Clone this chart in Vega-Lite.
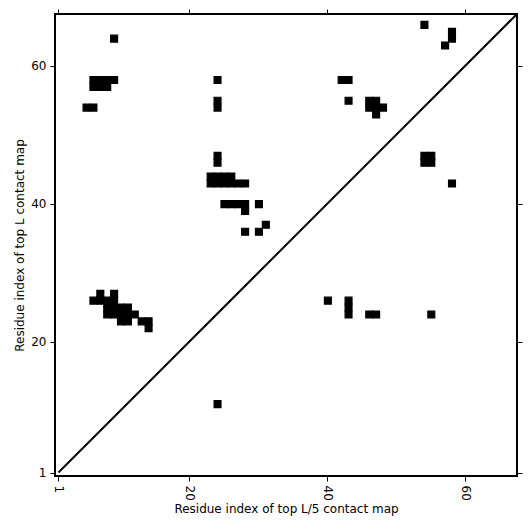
{
  "$schema": "https://vega.github.io/schema/vega-lite/v6.json",
  "width": 462,
  "height": 462,
  "autosize": "none",
  "padding": {"left": 55, "top": 14, "right": 14, "bottom": 55},
  "background": "white",
  "config": {
    "view": {"stroke": "black", "strokeWidth": 2},
    "axis": {
      "grid": false,
      "domain": false,
      "tickColor": "black",
      "tickSize": 5,
      "tickWidth": 1,
      "labelColor": "black",
      "labelFont": "DejaVu Sans",
      "labelFontSize": 12,
      "titleFont": "DejaVu Sans",
      "titleFontSize": 12,
      "titleFontWeight": "normal",
      "titleColor": "black"
    }
  },
  "layer": [
    {
      "data": {
        "values": [
          {"x": 9, "y": 64},
          {"x": 6, "y": 58}, {"x": 7, "y": 58}, {"x": 8, "y": 58}, {"x": 9, "y": 58},
          {"x": 6, "y": 57}, {"x": 7, "y": 57}, {"x": 8, "y": 57},
          {"x": 5, "y": 54}, {"x": 6, "y": 54},
          {"x": 24, "y": 58}, {"x": 24, "y": 55}, {"x": 24, "y": 54}, {"x": 24, "y": 47}, {"x": 24, "y": 46},
          {"x": 23, "y": 44}, {"x": 24, "y": 44}, {"x": 25, "y": 44}, {"x": 26, "y": 44},
          {"x": 23, "y": 43}, {"x": 24, "y": 43}, {"x": 25, "y": 43}, {"x": 26, "y": 43}, {"x": 27, "y": 43}, {"x": 28, "y": 43},
          {"x": 25, "y": 40}, {"x": 26, "y": 40}, {"x": 27, "y": 40}, {"x": 28, "y": 40}, {"x": 30, "y": 40},
          {"x": 28, "y": 39},
          {"x": 31, "y": 37},
          {"x": 28, "y": 36}, {"x": 30, "y": 36},
          {"x": 42, "y": 58}, {"x": 43, "y": 58},
          {"x": 43, "y": 55},
          {"x": 46, "y": 55}, {"x": 47, "y": 55}, {"x": 46, "y": 54}, {"x": 47, "y": 54}, {"x": 48, "y": 54},
          {"x": 47, "y": 53},
          {"x": 54, "y": 66},
          {"x": 58, "y": 65}, {"x": 58, "y": 64},
          {"x": 57, "y": 63},
          {"x": 7, "y": 27}, {"x": 9, "y": 27},
          {"x": 6, "y": 26}, {"x": 7, "y": 26}, {"x": 8, "y": 26}, {"x": 9, "y": 26},
          {"x": 8, "y": 25}, {"x": 9, "y": 25}, {"x": 10, "y": 25}, {"x": 11, "y": 25},
          {"x": 8, "y": 24}, {"x": 9, "y": 24}, {"x": 10, "y": 24}, {"x": 11, "y": 24}, {"x": 12, "y": 24},
          {"x": 10, "y": 23}, {"x": 11, "y": 23}, {"x": 13, "y": 23}, {"x": 14, "y": 23},
          {"x": 14, "y": 22},
          {"x": 54, "y": 47}, {"x": 55, "y": 47}, {"x": 54, "y": 46}, {"x": 55, "y": 46},
          {"x": 58, "y": 43},
          {"x": 40, "y": 26},
          {"x": 43, "y": 26}, {"x": 43, "y": 25}, {"x": 43, "y": 24},
          {"x": 46, "y": 24}, {"x": 47, "y": 24},
          {"x": 55, "y": 24},
          {"x": 24, "y": 11}
        ]
      },
      "mark": {"type": "rect", "color": "black", "opacity": 1, "stroke": "black", "strokeWidth": 1.2, "strokeJoin": "miter"},
      "encoding": {
        "x": {
          "field": "x",
          "type": "quantitative",
          "bin": {"step": 1, "anchor": 0.5, "extent": [0.5, 67.5]},
          "scale": {"domain": [0.5, 67.5], "nice": false, "zero": false},
          "axis": {
            "orient": "bottom",
            "values": [1, 20, 40, 60],
            "format": "d",
            "labelAngle": 90,
            "labelPadding": 4,
            "title": "Residue index of top L/5 contact map",
            "titlePadding": 3
          }
        },
        "y": {
          "field": "y",
          "type": "quantitative",
          "bin": {"step": 1, "anchor": 0.5, "extent": [0.5, 67.5]},
          "scale": {"domain": [0.5, 67.5], "nice": false, "zero": false},
          "axis": {
            "orient": "left",
            "values": [1, 20, 40, 60],
            "format": "d",
            "labelPadding": 4,
            "title": "Residue index of top L contact map",
            "titlePadding": 4
          }
        }
      }
    },
    {
      "data": {"values": [{"d": 1}, {"d": 67.5}]},
      "mark": {"type": "line", "color": "black", "strokeWidth": 2, "clip": true},
      "encoding": {
        "x": {
          "field": "d",
          "type": "quantitative",
          "scale": {"domain": [0.5, 67.5], "nice": false, "zero": false},
          "axis": {"orient": "top", "values": [1, 20, 40, 60], "labels": false, "title": null}
        },
        "y": {
          "field": "d",
          "type": "quantitative",
          "scale": {"domain": [0.5, 67.5], "nice": false, "zero": false},
          "axis": {"orient": "right", "values": [1, 20, 40, 60], "labels": false, "title": null}
        }
      }
    }
  ],
  "resolve": {"axis": {"x": "independent", "y": "independent"}}
}
